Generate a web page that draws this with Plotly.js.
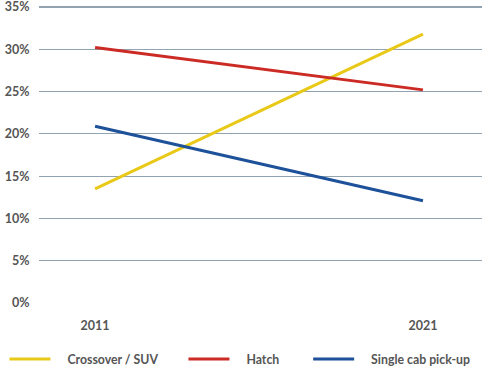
<!DOCTYPE html>
<html><head><meta charset="utf-8">
<script src="https://cdn.plot.ly/plotly-3.0.1.min.js"></script>
<style>html,body{margin:0;padding:0;background:#fff}#c{width:493px;height:373px}</style>
</head><body><div id="c"></div>
<script>
const years = ['2011', '2021'];
const crossover = [13.5, 31.8];
const hatch = [30.2, 25.2];
const singleCab = [20.9, 12.1];
const seriesNames = ['Crossover / SUV', 'Hatch', 'Single cab pick-up'];
const colors = ['#e9c918', '#cc2b25', '#1d5199'];
const yTicks = [0, 5, 10, 15, 20, 25, 30, 35];

const pad = n => '\u00a0'.repeat(n);
const leading = 4;
const trailing = [7, 8, 0];
const data = [crossover, hatch, singleCab].map((v, i) => ({
  x: years, y: v, type: 'scatter', mode: 'lines',
  name: pad(leading) + seriesNames[i] + pad(trailing[i]),
  line: {color: colors[i], width: 3}
}));
const font = {family: 'Lato, "Open Sans", sans-serif', size: 12.5, color: '#555', weight: 'bold'};
const legendFont = Object.assign({}, font, {size: 12.3});
const layout = {
  width: 493, height: 373,
  margin: {l: 39, r: 11, t: 4, b: 69, autoexpand: false},
  paper_bgcolor: '#fff', plot_bgcolor: '#fff',
  font: font,
  showlegend: true,
  legend: {orientation: 'h', x: -0.078, xanchor: 'left', y: -0.135, yanchor: 'top', font: legendFont, itemwidth: 41, traceorder: 'normal'},
  xaxis: {type: 'category', range: [-0.171, 1.18], showgrid: false, zeroline: false, showline: false,
    ticks: 'outside', ticklen: 10, tickcolor: 'rgba(0,0,0,0)', tickfont: font},
  yaxis: {range: [-0.118, 35.355], tickvals: yTicks, ticktext: yTicks.map(t => t + '%'), showgrid: true,
    gridcolor: '#91a3b0', gridwidth: 1.2, zeroline: false, showline: false, ticklabeloverflow: 'allow',
    ticks: 'outside', ticklen: 6, tickcolor: 'rgba(0,0,0,0)', tickfont: font}
};
Plotly.newPlot('c', data, layout, {displayModeBar: false, staticPlot: true});
</script></body></html>
